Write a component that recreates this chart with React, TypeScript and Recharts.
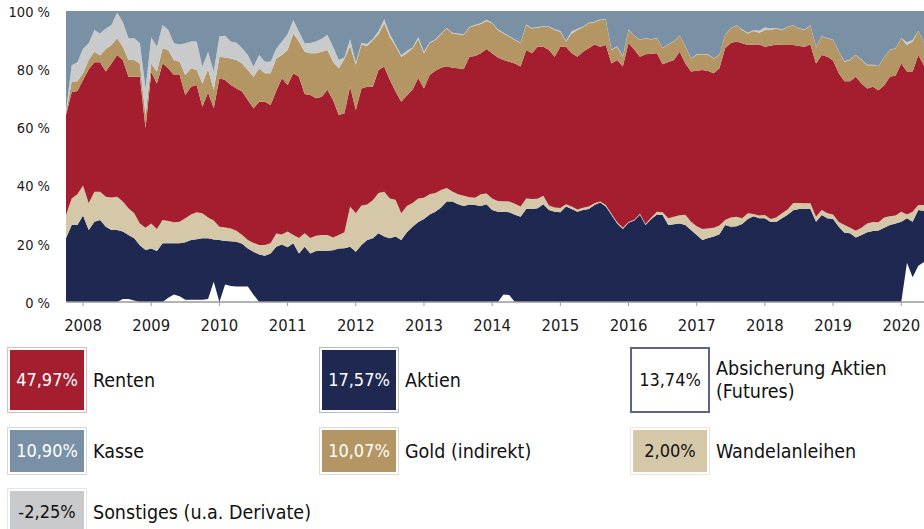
import React from 'react';
import { AreaChart, Area, XAxis, YAxis } from 'recharts';

const FONT = '"DejaVu Sans Condensed", "DejaVu Sans", sans-serif';

// monthly observations, first = Oct 2007
const startYear = 2007.75;
const yearTicks = [2008, 2009, 2010, 2011, 2012, 2013, 2014, 2015, 2016, 2017, 2018, 2019, 2020];
const percentTicks = [0, 20, 40, 60, 80, 100];

const absicherung = [
  0, 0, 0, 0, 0, 0, 0, 0, 0, 0,
  1.0, 1.0, 0.5, 0, 0, 0, 0, 0, 1.5, 2.6,
  2.0, 0.8, 0.8, 0.8, 0.8, 1.0, 7.0, 0, 6.0, 5.5,
  5.3, 5.3, 5.3, 2.5, 0, 0, 0, 0, 0, 0,
  0, 0, 0, 0, 0, 0, 0, 0, 0, 0,
  0, 0, 0, 0, 0, 0, 0, 0, 0, 0,
  0, 0, 0, 0, 0, 0, 0, 0, 0, 0,
  0, 0, 0, 0, 0, 0, 0, 2.6, 2.4, 0,
  0, 0, 0, 0, 0, 0, 0, 0, 0, 0,
  0, 0, 0, 0, 0, 0, 0, 0, 0, 0,
  0, 0, 0, 0, 0, 0, 0, 0, 0, 0,
  0, 0, 0, 0, 0, 0, 0, 0, 0, 0,
  0, 0, 0, 0, 0, 0, 0, 0, 0, 0,
  0, 0, 0, 0, 0, 0, 0, 0, 0, 0,
  0, 0, 0, 0, 0, 0, 0, 0, 13.5, 8.5,
  12.5, 13.74,
];

const aktien = [
  21.9, 26.5, 26.5, 29.7, 24.7, 27.6, 28.2, 25.9, 24.7, 24.7,
  23.2, 22.0, 21.4, 19.5, 17.9, 18.4, 17.5, 20.2, 18.7, 17.6,
  18.2, 19.7, 20.5, 20.8, 21.1, 20.9, 14.5, 21.3, 15.0, 15.4,
  15.4, 14.7, 13.1, 14.8, 16.3, 15.9, 16.7, 19.0, 19.8, 18.8,
  20.2, 16.7, 19.0, 16.7, 17.5, 17.6, 17.6, 17.8, 18.4, 18.5,
  19.0, 17.3, 19.6, 21.3, 21.9, 23.6, 22.5, 21.9, 22.5, 21.3,
  24.0, 25.9, 27.5, 28.5, 30.1, 31.0, 32.5, 34.5, 34.5, 33.6,
  33.0, 33.5, 33.3, 33.0, 33.6, 31.6, 31.0, 28.4, 28.4, 30.0,
  29.3, 32.0, 32.0, 32.2, 33.6, 31.6, 31.0, 30.8, 32.8, 32.0,
  31.0, 31.6, 32.0, 33.3, 34.2, 32.8, 29.9, 27.0, 25.1, 27.2,
  28.0, 30.0, 26.5, 28.5, 30.1, 29.9, 26.5, 26.7, 27.0, 26.5,
  24.7, 23.0, 21.3, 22.0, 22.5, 23.3, 26.5, 25.9, 26.0, 26.8,
  28.5, 29.5, 28.8, 28.8, 27.5, 27.5, 28.8, 30.0, 31.5, 32.0,
  32.0, 32.0, 27.6, 29.9, 28.8, 28.5, 25.9, 23.8, 23.6, 22.2,
  23.0, 24.0, 24.4, 24.6, 25.5, 26.5, 27.0, 27.6, 15.3, 19.1,
  19.1, 17.57,
];

const wandelanleihen = [
  8.0, 9.1, 10.5, 10.3, 9.2, 10.3, 9.7, 10.3, 11.2, 11.5,
  10.3, 9.2, 8.6, 7.5, 7.6, 8.6, 7.6, 8.0, 7.6, 7.2,
  7.4, 8.3, 8.8, 9.2, 8.6, 7.1, 6.5, 4.6, 4.6, 4.4,
  3.8, 3.0, 2.9, 3.0, 3.3, 3.7, 3.5, 4.5, 3.4, 5.4,
  2.8, 5.3, 4.6, 5.3, 5.3, 5.4, 5.4, 4.4, 4.6, 5.5,
  13.8, 13.2, 13.6, 12.2, 13.1, 13.9, 15.4, 13.7, 12.6, 9.2,
  9.0, 8.1, 8.1, 7.3, 6.9, 6.5, 6.0, 4.7, 3.5, 3.4,
  3.5, 2.5, 2.5, 4.0, 3.7, 4.0, 3.7, 3.6, 3.7, 3.8,
  3.5, 3.6, 3.4, 3.3, 2.9, 1.6, 1.5, 1.5, 0.8, 0.8,
  0.8, 0.8, 0.8, 0.6, 0.3, 0.5, 0.4, 0.4, 0.4, 0.3,
  0.3, 0.3, 0.3, 0.5, 0.9, 0.9, 2.3, 2.6, 2.8, 3.5,
  2.9, 3.0, 3.8, 3.3, 3.0, 3.0, 1.7, 3.1, 3.3, 2.0,
  2.0, 0.7, 0.9, 1.1, 1.0, 1.5, 1.7, 1.8, 2.5, 2.0,
  1.9, 1.9, 1.7, 1.7, 1.7, 1.6, 1.6, 2.7, 1.9, 2.3,
  2.5, 3.0, 3.1, 2.8, 3.5, 3.0, 2.7, 3.4, 1.3, 3.4,
  1.7, 2.0,
];

const renten = [
  34.4, 36.5, 35.5, 36.3, 46.1, 44.5, 44.5, 43.0, 46.1, 48.7,
  48.7, 45.2, 46.9, 50.4, 34.2, 52.0, 50.0, 53.8, 52.5, 50.6,
  50.4, 42.3, 43.9, 43.8, 36.6, 43.0, 38.6, 51.0, 50.7, 49.3,
  48.9, 49.3, 48.1, 46.3, 49.2, 49.2, 47.5, 49.0, 53.7, 50.4,
  55.6, 55.4, 47.9, 49.1, 47.2, 47.5, 49.9, 47.2, 41.3, 40.9,
  41.2, 35.5, 40.2, 40.5, 39.0, 42.2, 43.0, 40.7, 37.2, 38.3,
  38.0, 39.0, 41.4, 37.6, 41.0, 42.0, 42.0, 41.8, 42.5, 43.3,
  43.6, 48.3, 48.7, 48.5, 49.6, 49.9, 49.3, 48.6, 48.1, 48.2,
  48.1, 51.0, 50.1, 52.2, 51.2, 53.4, 51.8, 55.4, 54.1, 52.7,
  52.5, 53.6, 54.4, 54.6, 53.2, 55.0, 51.7, 55.8, 55.4, 61.5,
  58.5, 54.0, 58.3, 56.3, 54.5, 50.9, 53.7, 53.9, 56.2, 52.0,
  51.6, 53.5, 54.6, 54.1, 53.1, 54.0, 59.0, 60.0, 60.2, 60.1,
  57.8, 58.3, 58.8, 57.8, 59.6, 59.5, 57.8, 56.5, 54.3, 54.0,
  53.8, 54.6, 52.7, 53.3, 53.8, 52.9, 51.1, 49.4, 50.4, 52.9,
  49.6, 46.4, 46.5, 45.4, 45.5, 47.9, 48.1, 51.0, 49.1, 48.2,
  51.6, 47.97,
];

const gold = [
  0.7, 3.6, 3.4, 2.3, 3.2, 3.6, 2.3, 7.7, 6.3, 5.7,
  4.5, 5.8, 5.8, 4.6, 4.6, 3.0, 4.1, 5.2, 6.3, 5.2,
  4.6, 6.9, 6.3, 5.1, 8.0, 8.0, 6.3, 7.4, 7.7, 9.1,
  9.8, 9.7, 10.3, 10.8, 11.5, 9.8, 10.9, 11.2, 8.0, 12.0,
  13.7, 12.1, 14.5, 14.4, 15.5, 15.5, 13.7, 13.2, 16.0, 18.6,
  14.0, 15.5, 15.1, 14.0, 16.0, 12.3, 14.9, 14.7, 15.7, 15.5,
  14.5, 14.2, 13.3, 12.1, 10.9, 10.5, 11.5, 13.0, 11.8, 11.7,
  11.7, 10.0, 10.5, 10.0, 9.7, 10.3, 9.5, 9.1, 8.6, 8.0,
  8.0, 8.6, 8.5, 6.6, 6.9, 7.9, 9.2, 5.2, 1.8, 6.8,
  9.2, 8.5, 8.6, 7.6, 9.2, 8.7, 4.6, 4.5, 3.4, 4.5,
  4.7, 5.7, 5.5, 4.9, 5.1, 5.5, 6.0, 6.3, 5.5, 5.7,
  4.5, 5.5, 5.4, 5.6, 5.1, 4.6, 4.6, 5.0, 5.5, 4.6,
  4.0, 4.6, 4.0, 5.8, 5.4, 5.5, 5.2, 6.2, 6.7, 6.0,
  5.8, 6.5, 5.7, 6.3, 6.3, 7.0, 7.4, 6.7, 7.3, 7.5,
  8.1, 8.0, 7.4, 8.2, 9.5, 9.2, 9.4, 8.6, 9.1, 10.3,
  8.2, 7.7,
];

const sonstiges = [
  0.5, 5.7, 6.5, 8.4, 5.7, 7.5, 7.6, 7.1, 6.9, 8.9,
  8.5, 7.4, 7.4, 7.0, 9.1, 9.0, 8.5, 8.0, 6.9, 5.7,
  5.9, 10.9, 9.2, 9.8, 5.8, 6.0, 6.3, 6.9, 7.5, 5.8,
  5.9, 5.2, 5.2, 3.5, 4.6, 4.0, 4.0, 3.3, 4.6, 5.4,
  4.6, 3.4, 2.9, 3.5, 4.0, 4.5, 5.2, 5.1, 2.9, 0.5,
  2.3, 0.8, 0.5, 0.7, 0.5, 1.0, 1.4, 1.0, 0.5, 0.5,
  0.8, 0.3, 0.7, 0.5, 0.3, 0.3, 0.3, 0.2, 0.2, 0.3,
  0.2, 0.2, 0.3, 0.3, 0.4, 0.2, 0.2, 0.2, 0.2, 0.2,
  0.2, 0.2, 0.2, 0.2, 0.2, 0.2, 0.2, 0.2, 0.2, 0.7,
  0.4, 0.2, 0.2, 0.2, 0.2, 0.2, 0.2, 0.2, 0.2, 0.1,
  0.1, 0.1, 0.1, 0.1, 0.1, 0.1, 0.1, 0.1, 0.1, 0.1,
  0.1, 0.1, 0.1, 0.1, 0.1, 0.1, 0.1, 0.1, 0.1, 0.1,
  0.2, 0.3, 0.7, 0.8, 0.5, 0.2, 0.1, 0.1, 0.1, 0.1,
  0.1, 0.1, 0.1, 0.1, 0.1, 0.1, 0.1, 0.1, 0.1, 0.1,
  0.1, 0.1, 0.1, 0.1, 0.1, 0.1, 0.1, 0.1, 1.0, 0.5,
  0.1, 0.1,
];

const kasse = [
  34.5, 18.6, 17.6, 13.0, 11.1, 6.5, 7.7, 6.0, 4.8, 0.5,
  3.8, 9.4, 9.4, 11.0, 26.6, 9.0, 12.3, 4.8, 6.5, 11.1,
  11.5, 11.1, 10.5, 10.5, 19.1, 14.0, 20.8, 8.8, 8.5, 10.5,
  10.9, 12.8, 15.1, 19.1, 15.1, 17.4, 17.4, 13.0, 10.5, 8.0,
  3.1, 7.1, 11.1, 11.0, 10.5, 9.5, 8.2, 12.3, 16.8, 16.0,
  9.7, 17.7, 11.0, 11.3, 9.5, 7.0, 2.8, 8.0, 11.5, 15.2,
  13.7, 12.5, 9.0, 14.0, 10.8, 9.7, 7.7, 5.8, 7.5, 7.7,
  8.0, 5.5, 4.7, 4.2, 3.0, 4.0, 6.3, 7.5, 8.6, 9.8,
  10.9, 4.6, 5.8, 5.5, 5.2, 5.3, 6.3, 6.9, 10.3, 7.0,
  6.1, 5.3, 4.0, 3.7, 2.9, 2.8, 13.2, 12.1, 15.5, 6.4,
  8.4, 9.9, 9.3, 9.7, 9.3, 12.7, 11.4, 10.4, 8.4, 12.2,
  16.2, 14.9, 14.8, 14.9, 16.2, 15.0, 8.1, 5.9, 4.9, 6.4,
  7.5, 6.6, 6.8, 5.7, 6.0, 5.8, 6.4, 5.4, 4.9, 5.9,
  6.4, 4.9, 12.2, 8.7, 9.3, 9.9, 13.9, 17.3, 16.7, 15.0,
  16.7, 18.5, 18.5, 18.9, 15.9, 13.3, 12.7, 9.3, 10.7, 10.0,
  6.8, 10.9,
];

const legendItems = [
  { value: '47,97%', label: ['Renten'], fill: '#A51E2F', edge: '#E6B9BE', text: '#ffffff', row: 0, col: 0 },
  { value: '17,57%', label: ['Aktien'], fill: '#1E2850', edge: '#B9BCCB', text: '#ffffff', row: 0, col: 1 },
  { value: '13,74%', label: ['Absicherung Aktien', '(Futures)'], fill: '#ffffff', edge: '#5D6386', text: '#111111', row: 0, col: 2 },
  { value: '10,90%', label: ['Kasse'], fill: '#7990A5', edge: '#D3D9DF', text: '#ffffff', row: 1, col: 0 },
  { value: '10,07%', label: ['Gold (indirekt)'], fill: '#B39664', edge: '#E5DACA', text: '#ffffff', row: 1, col: 1 },
  { value: '2,00%', label: ['Wandelanleihen'], fill: '#D5C8A8', edge: '#EDE7DB', text: '#111111', row: 1, col: 2 },
  { value: '-2,25%', label: ['Sonstiges (u.a. Derivate)'], fill: '#C9CACC', edge: '#E6E6E7', text: '#111111', row: 2, col: 0 },
];

const rows = aktien.map((_, i) => ({
  t: startYear + i / 12,
  absicherung: absicherung[i],
  aktien: aktien[i],
  wandelanleihen: wandelanleihen[i],
  renten: renten[i],
  gold: gold[i],
  sonstiges: sonstiges[i],
  kasse: kasse[i],
}));

const series = [
  { key: 'absicherung', color: '#ffffff' },
  { key: 'aktien', color: '#1E2850' },
  { key: 'wandelanleihen', color: '#D5C8A8' },
  { key: 'renten', color: '#A51E2F' },
  { key: 'gold', color: '#B39664' },
  { key: 'sonstiges', color: '#C9CACC' },
  { key: 'kasse', color: '#7990A5' },
];

const XTick = (props: any) => {
  const { x, y, payload } = props;
  return (
    <text x={x} y={y} dy="0.71em" textAnchor="middle" fontSize={16.5} fill="#1a1a1a"
      style={{ fontFamily: FONT, fontStretch: 'condensed' }}>
      {payload.value}
    </text>
  );
};

const YTick = (props: any) => {
  const { x, y, payload } = props;
  return (
    <text x={x} y={y} dy="0.4em" textAnchor="end" fontSize={14.5} fill="#1a1a1a"
      style={{ fontFamily: FONT, fontStretch: 'condensed' }}>
      {`${payload.value} %`}
    </text>
  );
};

const rowTops = [347, 427, 488];
const rowHeights = [66, 48, 48];
const colLefts = [7, 319, 630];

export default function App() {
  return (
    <div style={{ position: 'absolute', left: 0, top: 0, width: 924, height: 529, background: '#ffffff', overflow: 'hidden', fontFamily: FONT, fontStretch: 'condensed' }}>
      <AreaChart width={924} height={340} data={rows} margin={{ top: 11, right: 0, bottom: 0, left: 0 }}>
        <XAxis
          dataKey="t"
          type="number"
          domain={[startYear, startYear + (aktien.length - 1) / 12]}
          ticks={yearTicks}
          interval={0}
          tick={<XTick />}
          tickSize={4}
          tickMargin={13}
          height={38}
          axisLine={{ stroke: '#9a9a9a', strokeWidth: 1.5 }}
          tickLine={{ stroke: '#9a9a9a' }}
          allowDataOverflow
        />
        <YAxis
          type="number"
          domain={[0, 100]}
          ticks={percentTicks}
          interval={0}
          width={66}
          axisLine={false}
          tickLine={false}
          tickSize={0}
          tickMargin={16}
          tick={<YTick />}
          allowDataOverflow
        />
        {series.map((s) => (
          <Area
            key={s.key}
            dataKey={s.key}
            stackId="1"
            type="linear"
            stroke="none"
            fill={s.color}
            fillOpacity={1}
            dot={false}
            activeDot={false}
            isAnimationActive={false}
          />
        ))}
      </AreaChart>
      {legendItems.map((it) => {
        const top = rowTops[it.row];
        const h = rowHeights[it.row];
        const left = colLefts[it.col];
        const isHedge = it.fill === '#ffffff';
        return (
          <React.Fragment key={it.value}>
            <div
              style={{
                position: 'absolute', left, top, width: 80, height: h, boxSizing: 'border-box',
                border: isHedge ? `2px solid ${it.edge}` : `1px solid ${it.edge}`,
                padding: isHedge ? 1 : 2,
              }}
            >
              <div
                style={{
                  width: '100%', height: '100%', background: it.fill, color: it.text,
                  display: 'flex', alignItems: 'center', justifyContent: 'center',
                  fontSize: 18, lineHeight: 1,
                }}
              >
                {it.value}
              </div>
            </div>
            <div
              style={{
                position: 'absolute', left: left + 86, top, height: h,
                display: 'flex', flexDirection: 'column', justifyContent: 'center',
                fontSize: 19.5, lineHeight: '23px', color: '#111111', whiteSpace: 'nowrap',
              }}
            >
              {it.label.map((l) => (
                <div key={l}>{l}</div>
              ))}
            </div>
          </React.Fragment>
        );
      })}
    </div>
  );
}
